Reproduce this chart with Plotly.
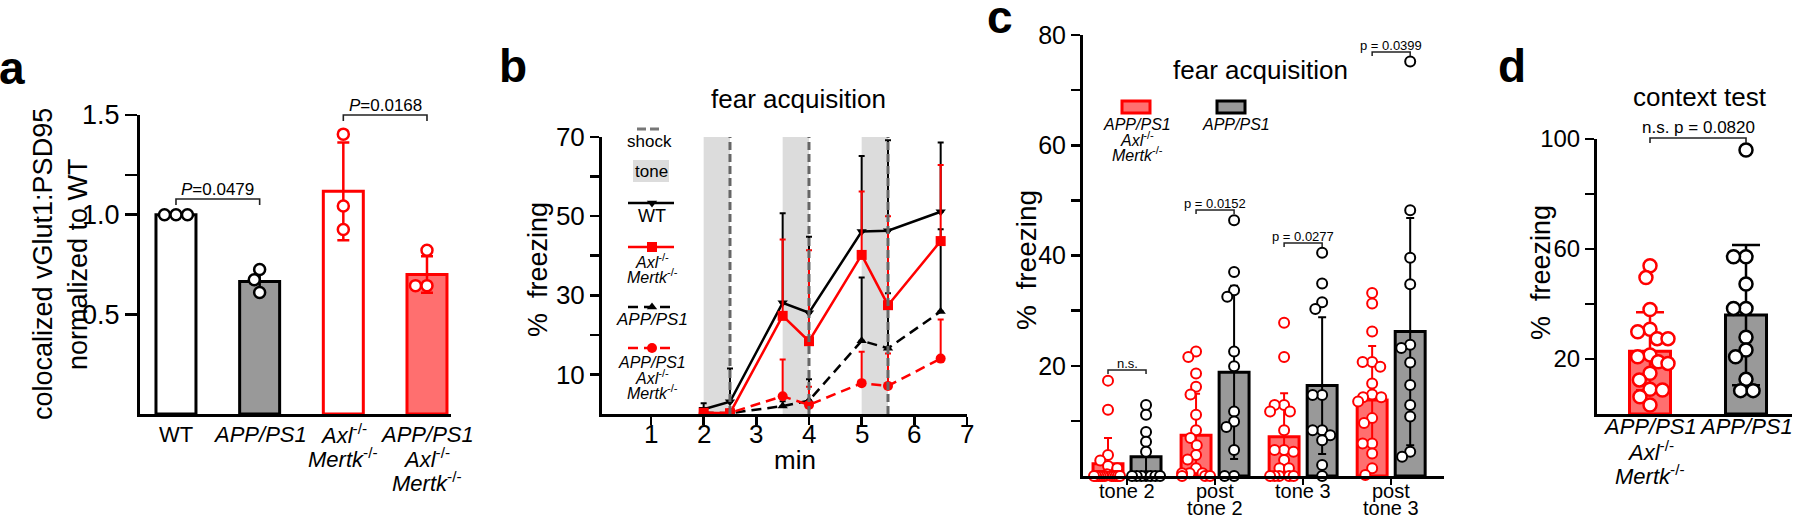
import math
import plotly.graph_objects as go

W, H = 1800, 516
FONT = "Liberation Sans, Arial, Helvetica, sans-serif"
RED = "#ff0000"
SALMON = "#ff6f6f"
GRAY = "#999999"
TONE = "#dcdcdc"
SHOCK = "#666666"

# ---------------- data ----------------
# panel a : colocalized vGlut1:PSD95 normalized to WT
a_labels = [["WT"], ["<i>APP/PS1</i>"],
            ["<i>Axl</i><sup>-/-</sup>", "<i>Mertk</i><sup>-/-</sup>"],
            ["<i>APP/PS1</i>", "<i>Axl</i><sup>-/-</sup>", "<i>Mertk</i><sup>-/-</sup>"]]
a_mean = [1.0, 0.665, 1.117, 0.700]
a_sd = [0.0, 0.055, 0.245, 0.092]
a_dots = [[1.0, 1.0, 1.0],
          [0.725, 0.674, 0.610],
          [1.404, 1.043, 0.926],
          [0.822, 0.644, 0.644]]
a_pvals = ["0.0479", "0.0168"]

# panel b : fear acquisition time course (% freezing)
b_minutes = [2, 2.5, 3.5, 4, 5, 5.5, 6.5]
b_xticks = [1, 2, 3, 4, 5, 6, 7]
b_wt = [1.2, 3.1, 28.1, 25.6, 46.1, 46.3, 51.1]
b_wt_err = [1.5, 8.4, 22.6, 19.2, 19.1, 22.9, 17.5]
b_axl = [0.3, 0.2, 24.8, 18.4, 40.2, 27.5, 43.7]
b_axl_err = [0.5, 0.8, 19.3, 23.0, 16.0, 22.5, 19.2]
b_app = [0.3, 0.2, 2.0, 3.4, 18.5, 16.6, 25.9]
b_app_err = [0.4, 0.4, 1.2, 5.4, 16.0, 13.9, 20.8]
b_dko = [0.2, 0.3, 4.5, 2.3, 7.8, 7.1, 14.0]
b_dko_err = [0.3, 0.5, 9.3, 4.6, 7.9, 8.2, 9.9]
b_tone_start = [2, 3.5, 5]
b_tone_end = [2.5, 4, 5.5]
b_shock = [2.5, 4, 5.5]

# panel c : fear acquisition by period
c_labels = [["tone 2"], ["post", "tone 2"], ["tone 3"], ["post", "tone 3"]]
c_dko_mean = [2.2, 7.4, 7.1, 13.8]
c_dko_sd = [4.7, 7.5, 7.9, 9.8]
c_app_mean = [3.5, 18.8, 16.4, 26.2]
c_app_sd = [4.5, 15.7, 12.4, 20.6]
c_dko_dots = [
    [17.3, 12.0, 3.8, 2.8, 1.8, 1.4, 0.3, 0, 0, 0, 0, 0, 0, 0, 0, 0, 0, 0],
    [22.6, 21.6, 18.6, 16.2, 14.8, 11.1, 8.3, 6.9, 5.6, 3.8, 3.0, 1.4, 0.5, 0.5, 0.5, 0, 0, 0],
    [27.8, 21.6, 12.9, 12.9, 11.7, 11.7, 8.3, 4.7, 4.7, 4.4, 2.9, 1.4, 1.4, 0, 0, 0, 0, 0],
    [33.2, 31.3, 26.2, 20.7, 20.7, 19.8, 16.8, 14.8, 14.3, 14.3, 13.5, 10.5, 9.6, 5.9, 5.9, 4.1, 1.4, 0.2],
]
c_app_dots = [
    [12.9, 11.1, 8.0, 6.2, 4.4, 0, 0, 0, 0, 0, 0, 0],
    [46.4, 37.0, 33.7, 32.5, 22.6, 19.9, 11.7, 9.9, 8.9, 4.7, 0, 0],
    [40.5, 34.9, 31.5, 30.3, 14.7, 14.7, 8.3, 8.3, 7.4, 6.5, 2.0, 0],
    [75.2, 48.2, 39.6, 34.8, 23.8, 23.2, 20.6, 16.5, 12.9, 10.8, 4.4, 3.5],
]
c_pvals = ["n.s.", "p = 0.0152", "p = 0.0277", "p = 0.0399"]

# panel d : context test
d_labels = [["<i>APP/PS1</i>", "<i>Axl</i><sup>-/-</sup>", "<i>Mertk</i><sup>-/-</sup>"], ["<i>APP/PS1</i>"]]
d_mean = [22.8, 36.0]
d_sd = [14.2, 25.5]
d_dots = [
    [53.9, 49.6, 38.0, 30.8, 29.9, 27.4, 27.4, 21.5, 20.8, 19.0, 18.4, 14.8, 12.4, 9.0, 8.7, 6.3, 3.3],
    [96.0, 57.2, 57.2, 47.3, 38.4, 38.4, 27.9, 23.3, 20.8, 12.6, 8.5, 8.5],
]
d_pval = "n.s. p = 0.0820"

# ---------------- geometry (pixels) ----------------
P = {
    "a": dict(x0=140, x1=451, xr=(-0.43, 3.287), yb=414, yt=115, yr=(0, 1.5)),
    "b": dict(x0=602, x1=967, xr=(0.07, 7.0), yb=414, yt=137, yr=(0, 70)),
    "c": dict(x0=1083, x1=1444, xr=(-0.5, 3.6), yb=476, yt=35, yr=(0, 80)),
    "d": dict(x0=1597, x1=1792, xr=(-0.552, 1.479), yb=414, yt=139, yr=(0, 100)),
}


def xpu(p):
    g = P[p]
    return (g["x1"] - g["x0"]) / (g["xr"][1] - g["xr"][0])


def ypu(p):
    g = P[p]
    return (g["yb"] - g["yt"]) / (g["yr"][1] - g["yr"][0])


def X(p, v):
    g = P[p]
    return g["x0"] + (v - g["xr"][0]) * xpu(p)


def swarm(vals, ppu, d, limit):
    pts = []
    for v in vals:
        y = v * ppu
        cands = [0.0]
        for (qx, qy) in pts:
            dy = abs(qy - y)
            if dy < d:
                dx = math.sqrt(d * d - dy * dy)
                cands += [qx + dx, qx - dx]
        cands.sort(key=lambda c: (abs(c), c))
        for c in cands:
            if all((c - qx) ** 2 + (y - qy) ** 2 >= d * d - 1e-6 for qx, qy in pts):
                pts.append([c, y])
                break
    used = [False] * len(pts)
    for i in range(len(pts)):
        if used[i]:
            continue
        row = [j for j in range(len(pts)) if abs(pts[j][1] - pts[i][1]) < 0.25 * d]
        for j in row:
            used[j] = True
        m = max(abs(pts[j][0]) for j in row)
        if m > limit:
            for j in row:
                pts[j][0] *= limit / m
    return [max(-limit, min(limit, x)) for (x, y) in pts]


fig = go.Figure()
ann = []
shapes = []


def text(x, y, s, size, **kw):
    d = dict(x=x, y=y, xref="x5", yref="y5", text=s, showarrow=False,
             font=dict(family=FONT, size=size, color="black"),
             xanchor="center", yanchor="middle")
    d.update(kw)
    ann.append(d)


def bracket(xa, xb, yl, tick=5, w=1.6):
    shapes.append(dict(type="path", xref="x5", yref="y5",
                       path=f"M{xa},{yl + tick} L{xa},{yl} L{xb},{yl} L{xb},{yl + tick}",
                       line=dict(color="#222222", width=w)))


# ---------------- panel a ----------------
a_fill = ["white", GRAY, "white", SALMON]
a_edge = ["black", "black", RED, RED]
for i in range(4):
    fig.add_trace(go.Bar(
        x=[i], y=[a_mean[i]], width=0.478, xaxis="x", yaxis="y",
        marker=dict(color=a_fill[i], line=dict(color=a_edge[i], width=3)),
        error_y=dict(type="data", array=[a_sd[i]], visible=a_sd[i] > 0,
                     color=a_edge[i], thickness=2.5, width=6)))
    offs = swarm(a_dots[i], ypu("a"), 11.5, 15)
    fig.add_trace(go.Scatter(
        x=[i + o / xpu("a") for o in offs], y=a_dots[i], mode="markers",
        xaxis="x", yaxis="y", cliponaxis=False,
        marker=dict(symbol="circle", size=11, color="white",
                    line=dict(color=a_edge[i], width=2.5))))
    for k, line in enumerate(a_labels[i]):
        text(X("a", i), 434 + 24 * k, line, 22)

bracket(X("a", 0), X("a", 1), 199, 6)
text((X("a", 0) + X("a", 1)) / 2, 189, "<i>P</i>=" + a_pvals[0], 17)
bracket(X("a", 2), X("a", 3), 115, 6)
text((X("a", 2) + X("a", 3)) / 2, 105, "<i>P</i>=" + a_pvals[1], 17)
text(43, 264, "colocalized vGlut1:PSD95", 27, textangle=-90)
text(78, 264, "normalized to WT", 27, textangle=-90)

# ---------------- panel b ----------------
for s, e in zip(b_tone_start, b_tone_end):
    shapes.append(dict(type="rect", xref="x2", yref="y2", x0=s, x1=e, y0=0, y1=70,
                       fillcolor=TONE, line=dict(width=0), layer="below"))
for s in b_shock:
    shapes.append(dict(type="line", xref="x2", yref="y2", x0=s, x1=s, y0=0, y1=70,
                       line=dict(color=SHOCK, width=3, dash="8px,4px"), layer="above"))

b_series = [
    (b_app, b_app_err, "black", "10px,6px", "triangle-up", 9),
    (b_dko, b_dko_err, RED, "10px,6px", "circle", 10),
    (b_wt, b_wt_err, "black", "solid", "triangle-down", 9),
    (b_axl, b_axl_err, RED, "solid", "square", 10),
]
for vals, err, col, dash, sym, sz in b_series:
    fig.add_trace(go.Scatter(
        x=b_minutes, y=vals, mode="lines+markers", xaxis="x2", yaxis="y2",
        line=dict(color=col, width=2.5, dash=dash),
        marker=dict(symbol=sym, size=sz, color=col),
        error_y=dict(type="data", symmetric=False, array=err, arrayminus=[0] * len(err),
                     color=col, thickness=2, width=3)))

shapes.append(dict(type="line", xref="x5", yref="y5", x0=637, x1=662, y0=129, y1=129,
                   line=dict(color="#777777", width=3, dash="9px,4px")))
text(649, 141, "shock", 17)
shapes.append(dict(type="rect", xref="x5", yref="y5", x0=633, x1=669, y0=160, y1=182,
                   fillcolor=TONE, line=dict(width=0)))
text(651, 171, "tone", 17)
leg = [
    (203, "black", "solid", "triangle-down", 9, [(216, "WT", 18)]),
    (247, RED, "solid", "square", 10, [(261, "<i>Axl</i><sup>-/-</sup>", 16),
                                       (276, "<i>Mertk</i><sup>-/-</sup>", 16)]),
    (307, "black", "10px,6px", "triangle-up", 9, [(319, "<i>APP/PS1</i>", 17)]),
    (348, RED, "10px,6px", "circle", 10, [(362, "<i>APP/PS1</i>", 16),
                                          (377, "<i>Axl</i><sup>-/-</sup>", 16),
                                          (392, "<i>Mertk</i><sup>-/-</sup>", 16)]),
]
for yl, col, dash, sym, sz, lines in leg:
    fig.add_trace(go.Scatter(x=[628, 674], y=[yl, yl], mode="lines", xaxis="x5", yaxis="y5",
                             line=dict(color=col, width=2.5, dash=dash)))
    fig.add_trace(go.Scatter(x=[652], y=[yl], mode="markers", xaxis="x5", yaxis="y5",
                             marker=dict(symbol=sym, size=sz, color=col)))
    for yy, s, fs in lines:
        text(652, yy, s, fs)

for v in b_xticks:
    text(X("b", v), 434, str(v), 26)
text(798, 99, "fear acquisition", 26)
text(795, 460, "min", 26)
text(538, 270, "%  freezing", 27, textangle=-90)

# ---------------- panel c ----------------
c_off = 0.216
c_w = 0.34
for i in range(4):
    for sign, mean, sd, dots, fill, edge in [(-1, c_dko_mean, c_dko_sd, c_dko_dots, SALMON, RED),
                                             (1, c_app_mean, c_app_sd, c_app_dots, GRAY, "black")]:
        xc = i + sign * c_off
        fig.add_trace(go.Bar(
            x=[xc], y=[mean[i]], width=c_w, xaxis="x3", yaxis="y3",
            marker=dict(color=fill, line=dict(color=edge, width=3)),
            error_y=dict(type="data", symmetric=False, array=[sd[i]],
                         arrayminus=[min(sd[i], mean[i])], color=edge, thickness=2, width=4)))
        vals = sorted(dots[i], reverse=True)
        offs = swarm(vals, ypu("c"), 9.5, 14)
        fig.add_trace(go.Scatter(
            x=[xc + o / xpu("c") for o in offs], y=vals,
            mode="markers", xaxis="x3", yaxis="y3", cliponaxis=False,
            marker=dict(symbol="circle", size=10, color="white", line=dict(color=edge, width=2))))
    for k, line in enumerate(c_labels[i]):
        text(X("c", i), 491 + 17 * k, line, 20)

c_br = [370, 210, 243, 52]
for i in range(4):
    xa, xb = X("c", i - c_off), X("c", i + c_off)
    bracket(xa, xb, c_br[i], 4, 1.5)
    text((xa + xb) / 2, c_br[i] - 7, c_pvals[i], 13)

text(1260, 70, "fear acquisition", 26)
text(1026, 260, "%  freezing", 28, textangle=-90)
shapes.append(dict(type="rect", xref="x5", yref="y5", x0=1122, x1=1150, y0=101, y1=113,
                   fillcolor=SALMON, line=dict(color=RED, width=3)))
shapes.append(dict(type="rect", xref="x5", yref="y5", x0=1217, x1=1245, y0=101, y1=113,
                   fillcolor=GRAY, line=dict(color="black", width=3)))
for k, s in enumerate(["<i>APP/PS1</i>", "<i>Axl</i><sup>-/-</sup>", "<i>Mertk</i><sup>-/-</sup>"]):
    text(1137, 124 + 15 * k, s, 16)
text(1236, 124, "<i>APP/PS1</i>", 16)

# ---------------- panel d ----------------
d_fill = [SALMON, GRAY]
d_edge = [RED, "black"]
for i in range(2):
    fig.add_trace(go.Bar(
        x=[i], y=[d_mean[i]], width=0.427, xaxis="x4", yaxis="y4",
        marker=dict(color=d_fill[i], line=dict(color=d_edge[i], width=3)),
        error_y=dict(type="data", array=[d_sd[i]], color=d_edge[i], thickness=2.5, width=14)))
    offs = swarm(d_dots[i], ypu("d"), 12.5, 18)
    fig.add_trace(go.Scatter(
        x=[i + o / xpu("d") for o in offs], y=d_dots[i], mode="markers",
        xaxis="x4", yaxis="y4", cliponaxis=False,
        marker=dict(symbol="circle", size=13, color="white",
                    line=dict(color=d_edge[i], width=2.5))))
    for k, line in enumerate(d_labels[i]):
        text(X("d", i), 426 + 24.5 * k, line, 22)

bracket(X("d", 0), X("d", 1), 138, 5, 1.6)
text((X("d", 0) + X("d", 1)) / 2, 127, d_pval, 17)
text(1700, 97, "context test", 26)
text(1541, 273, "%  freezing", 27, textangle=-90)

for s, x, y in [("a", 12, 68), ("b", 513, 66), ("c", 1000, 17), ("d", 1512, 66)]:
    text(x, y, "<b>" + s + "</b>", 46)


# ---------------- axes ----------------
def yax(p, tickvals, ticktext, fs, anchor, ticklen=9):
    g = P[p]
    return dict(domain=[1 - g["yb"] / H, 1 - g["yt"] / H], range=list(g["yr"]),
                tickmode="array", tickvals=tickvals, ticktext=ticktext,
                ticks="outside", ticklen=ticklen, tickwidth=2.5, tickcolor="black",
                showline=True, linewidth=3, linecolor="black", showgrid=False,
                zeroline=False, anchor=anchor, fixedrange=True, automargin=False,
                tickfont=dict(family=FONT, size=fs, color="black"))


def xax(p, anchor, **kw):
    g = P[p]
    d = dict(domain=[g["x0"] / W, g["x1"] / W], range=list(g["xr"]),
             showline=True, linewidth=3, linecolor="black", showgrid=False,
             zeroline=False, anchor=anchor, fixedrange=True, showticklabels=False,
             ticks="", automargin=False)
    d.update(kw)
    return d


fig.update_layout(
    template="none",
    width=W, height=H, autosize=False,
    margin=dict(l=0, r=0, t=0, b=0, pad=0, autoexpand=False),
    paper_bgcolor="white", plot_bgcolor="rgba(0,0,0,0)",
    showlegend=False, barmode="overlay",
    font=dict(family=FONT, color="black"),
    xaxis=xax("a", "y"),
    yaxis=yax("a", [0.5, 1.0, 1.2, 1.5], ["0.5", "1.0", "", "1.5"], 27, "x", 12),
    xaxis2=xax("b", "y2", tickmode="array", tickvals=b_xticks,
               ticks="outside", ticklen=8, tickwidth=2.5, tickcolor="black"),
    yaxis2=yax("b", [10, 20, 30, 40, 50, 60, 70], ["10", "", "30", "", "50", "", "70"], 26, "x2"),
    xaxis3=xax("c", "y3", tickmode="array", tickvals=[0, 1, 2, 3], ticks="outside",
               ticklen=6, tickwidth=2.5, tickcolor="black"),
    yaxis3=yax("c", [10, 20, 30, 40, 50, 60, 70, 80], ["", "20", "", "40", "", "60", "", "80"], 25, "x3"),
    xaxis4=xax("d", "y4"),
    yaxis4=yax("d", [20, 40, 60, 80, 100], ["20", "", "60", "", "100"], 24, "x4"),
    xaxis5=dict(domain=[0, 1], range=[0, W], visible=False, anchor="y5", fixedrange=True,
                automargin=False),
    yaxis5=dict(domain=[0, 1], range=[H, 0], visible=False, anchor="x5", fixedrange=True,
                automargin=False),
    annotations=ann, shapes=shapes,
)

fig.write_html(
    "out.html",
    config={"displayModeBar": False, "staticPlot": True},
    post_script="document.body.style.margin='0';document.body.style.overflow='hidden';",
)
